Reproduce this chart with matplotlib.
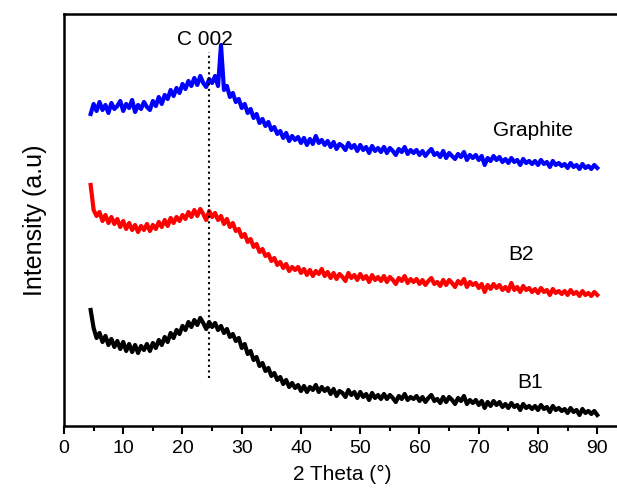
import numpy as np
import matplotlib
matplotlib.use('Agg')
import matplotlib.pyplot as plt
from matplotlib.ticker import MultipleLocator

plt.rcParams['font.family'] = ['Liberation Sans', 'DejaVu Sans']

# 2 theta grid, 0.5 deg steps from 4.5 to 90
two_theta = np.arange(4.5, 90.01, 0.5)

# intensities (a.u., stacked with offsets as in the figure)
graphite = [
    312, 322, 315, 324, 316, 321, 313, 323, 317, 320,
    325, 315, 322, 318, 326, 314, 321, 317, 324, 319,
    316, 325, 320, 329, 322, 331, 327, 336, 330, 338,
    333, 342, 337, 345, 340, 348, 341, 350, 343, 339,
    347, 343, 350, 340, 381, 336, 340, 329, 333, 324,
    327, 318, 322, 313, 317, 308, 312, 303, 307, 300,
    304, 296, 299, 292, 295, 288, 293, 285, 290, 286,
    289, 283, 288, 281, 287, 282, 290, 283, 286, 281,
    285, 279, 284, 277, 282, 280, 276, 283, 278, 281,
    275, 281, 276, 279, 273, 280, 275, 278, 274, 279,
    273, 278, 275, 271, 277, 274, 279, 272, 276, 273,
    276, 271, 275, 270, 274, 277, 271, 273, 269, 275,
    268, 273, 270, 267, 272, 269, 274, 266, 271, 268,
    271, 266, 270, 261, 268, 265, 270, 266, 269, 264,
    267, 263, 268, 264, 266, 261, 267, 263, 265, 262,
    265, 261, 266, 262, 264, 259, 265, 261, 263, 260,
    262, 258, 263, 259, 261, 257, 262, 258, 260, 257,
    261, 258,
]

b2 = [
    241, 216, 210, 214, 205, 211, 203, 209, 202, 207,
    199, 205, 197, 203, 196, 201, 194, 200, 196, 202,
    195, 201, 197, 204, 199, 206, 200, 208, 203, 209,
    205, 211, 207, 214, 209, 216, 210, 217, 212, 206,
    215, 209, 213, 206, 210, 202, 207, 199, 203, 195,
    197, 189, 192, 184, 187, 179, 182, 174, 177, 170,
    172, 165, 168, 161, 164, 158, 162, 155, 159, 156,
    159, 153, 157, 151, 156, 150, 155, 152, 157, 150,
    154, 148, 153, 147, 152, 149, 145, 153, 148, 151,
    146, 152, 147, 150, 144, 151, 146, 149, 145, 150,
    144, 149, 146, 142, 148, 145, 150, 143, 147, 144,
    147, 142, 146, 141, 145, 148, 142, 144, 140, 146,
    141, 146, 143, 139, 145, 142, 147, 139, 144, 141,
    143, 138, 142, 134, 141, 137, 142, 138, 141, 136,
    139, 135, 143, 136, 139, 134, 140, 136, 138, 134,
    137, 133, 138, 134, 136, 131, 137, 133, 135, 132,
    135, 131, 136, 132, 134, 130, 135, 131, 133, 130,
    134, 131,
]

b1 = [
    116, 98, 88, 93, 84, 90, 81, 87, 79, 85,
    77, 84, 75, 82, 74, 81, 73, 80, 76, 82,
    75, 83, 78, 86, 81, 89, 84, 93, 88, 96,
    92, 100, 96, 104, 99, 106, 101, 108, 103, 97,
    104, 99, 103, 96, 100, 93, 97, 89, 92, 85,
    88, 78, 82, 72, 75, 66, 69, 60, 63, 55,
    58, 50, 53, 46, 49, 42, 46, 39, 43, 38,
    41, 35, 40, 34, 39, 36, 41, 34, 39, 35,
    38, 32, 37, 30, 35, 33, 29, 36, 31, 34,
    28, 34, 29, 32, 26, 33, 28, 31, 27, 32,
    27, 31, 28, 24, 30, 27, 32, 26, 29, 27,
    30, 25, 29, 24, 28, 31, 25, 27, 23, 29,
    24, 29, 26, 22, 28, 25, 30, 22, 26, 23,
    26, 21, 25, 18, 24, 20, 25, 21, 24, 19,
    22, 18, 23, 19, 21, 16, 22, 18, 20, 17,
    20, 16, 21, 17, 19, 14, 20, 16, 18, 15,
    17, 13, 18, 14, 16, 11, 17, 13, 15, 12,
    15, 11,
]

c002_pos = 24.5
c002_range = [48, 374]

fig = plt.figure(figsize=(6.17, 5.03), dpi=100)
ax = fig.add_axes([0.1037, 0.1531, 0.9027, 0.8191])

ax.plot(two_theta, graphite, color='#0000ff', lw=3.0, solid_joinstyle='round')
ax.plot(two_theta, b2, color='#ff0000', lw=3.0, solid_joinstyle='round')
ax.plot(two_theta, b1, color='black', lw=3.0, solid_joinstyle='round')

ax.plot([c002_pos, c002_pos], c002_range, color='black', ls=':', lw=1.5)

ax.text(79.1, 295, 'Graphite', ha='center', va='center', fontsize=15)
ax.text(77.2, 171, 'B2', ha='center', va='center', fontsize=15)
ax.text(78.6, 43, 'B1', ha='center', va='center', fontsize=15)
ax.text(23.8, 386, 'C 002', ha='center', va='center', fontsize=15)

ax.set_xlim(0, 94)
ax.set_ylim(0, 412)
ax.xaxis.set_major_locator(MultipleLocator(10))
ax.xaxis.set_minor_locator(MultipleLocator(5))
ax.set_yticks([])
ax.tick_params(axis='x', which='major', direction='out', length=6, width=1.5,
               labelsize=14, pad=4)
ax.tick_params(axis='x', which='minor', direction='out', length=3.5, width=1.5)
for s in ax.spines.values():
    s.set_linewidth(1.8)

ax.set_xlabel('2 Theta (°)', fontsize=15, labelpad=6)
ax.set_ylabel('Intensity (a.u)', fontsize=18, labelpad=12)

fig.savefig('out.png', dpi=100)
